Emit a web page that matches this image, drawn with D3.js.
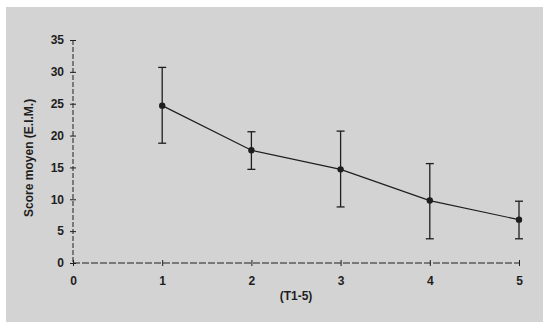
<!DOCTYPE html>
<html>
<head>
<meta charset="utf-8">
<script src="https://cdn.jsdelivr.net/npm/d3@7"></script>
<style>
    html, body { margin: 0; padding: 0; background: #fff; }
    svg { display: block; }
    text { font-family: "Liberation Sans", Arial, sans-serif; }
</style>
</head>
<body>
<div id="chart"></div>
<script>
// Data
const sessions = [1, 2, 3, 4, 5];
const meanScores = [24.7, 17.7, 14.7, 9.8, 6.8];
const upperBars = [30.7, 20.6, 20.7, 15.6, 9.7];
const lowerBars = [18.8, 14.7, 8.8, 3.8, 3.8];
const xTicks = [0, 1, 2, 3, 4, 5];
const yTicks = [0, 5, 10, 15, 20, 25, 30, 35];

const width = 550, height = 332;
const margin = { top: 40, right: 31, bottom: 69, left: 73 };
const ink = '#1e1e1e';

const svg = d3.select('#chart').append('svg')
    .attr('width', width)
    .attr('height', height);

// Grey panel
svg.append('rect')
    .attr('x', 6).attr('y', 7)
    .attr('width', 537).attr('height', 315)
    .attr('fill', '#d3d3d3');

const x = d3.scaleLinear().domain([0, 5]).range([margin.left, width - margin.right]);
const y = d3.scaleLinear().domain([0, 35]).range([height - margin.bottom, margin.top]);

const g = svg.append('g');

// Axes (dashed like the scanned original)
const xAxis = g.append('g')
    .attr('transform', `translate(0,${y(0)})`)
    .call(d3.axisBottom(x).tickValues(xTicks).tickSize(3).tickPadding(10).tickFormat(d3.format('d')));

const yAxis = g.append('g')
    .attr('transform', `translate(${x(0)},0)`)
    .call(d3.axisLeft(y).tickValues(yTicks).tickSize(3).tickPadding(6).tickFormat(d3.format('d')));

[xAxis, yAxis].forEach(ax => {
    ax.select('.domain').remove();
    ax.selectAll('.tick line').attr('stroke', ink).attr('stroke-width', 1);
    ax.selectAll('text')
        .attr('fill', ink)
        .style('font-size', '12px')
        .style('font-weight', 'bold');
});
yAxis.selectAll('.tick line').attr('x2', 3).attr('x1', -3);
xAxis.selectAll('.tick line').attr('y1', -3).attr('y2', 3);

g.append('line')
    .attr('x1', x(0)).attr('x2', x(0))
    .attr('y1', y(35)).attr('y2', y(0))
    .attr('stroke', ink).attr('stroke-width', 1)
    .attr('stroke-dasharray', '5,2');

g.append('line')
    .attr('x1', x(0)).attr('x2', x(5))
    .attr('y1', y(0)).attr('y2', y(0))
    .attr('stroke', ink).attr('stroke-width', 1)
    .attr('stroke-dasharray', '7,2');

// Error bars
const bars = g.selectAll('.err').data(sessions).enter().append('g').attr('class', 'err');
bars.append('line')
    .attr('x1', d => x(d)).attr('x2', d => x(d))
    .attr('y1', (d, i) => y(upperBars[i])).attr('y2', (d, i) => y(lowerBars[i]))
    .attr('stroke', ink).attr('stroke-width', 1.3);
bars.append('line')
    .attr('x1', d => x(d) - 4).attr('x2', d => x(d) + 4)
    .attr('y1', (d, i) => y(upperBars[i])).attr('y2', (d, i) => y(upperBars[i]))
    .attr('stroke', ink).attr('stroke-width', 1.3);
bars.append('line')
    .attr('x1', d => x(d) - 4).attr('x2', d => x(d) + 4)
    .attr('y1', (d, i) => y(lowerBars[i])).attr('y2', (d, i) => y(lowerBars[i]))
    .attr('stroke', ink).attr('stroke-width', 1.3);

// Mean line
const line = d3.line()
    .x((d, i) => x(sessions[i]))
    .y(d => y(d));

g.append('path')
    .datum(meanScores)
    .attr('d', line)
    .attr('fill', 'none')
    .attr('stroke', ink)
    .attr('stroke-width', 1.2);

g.selectAll('.pt').data(meanScores).enter().append('circle')
    .attr('class', 'pt')
    .attr('cx', (d, i) => x(sessions[i]))
    .attr('cy', d => y(d))
    .attr('r', 3.2)
    .attr('fill', ink);

// Axis titles
svg.append('text')
    .attr('x', x(2.5)).attr('y', 300)
    .attr('text-anchor', 'middle')
    .attr('fill', ink)
    .style('font-size', '12px')
    .style('font-weight', 'bold')
    .text('(T1-5)');

svg.append('text')
    .attr('transform', `translate(33,${y(16.5)}) rotate(-90)`)
    .attr('text-anchor', 'middle')
    .attr('fill', ink)
    .style('font-size', '12px')
    .style('font-weight', 'bold')
    .text('Score moyen (E.I.M.)');
</script>
</body>
</html>
